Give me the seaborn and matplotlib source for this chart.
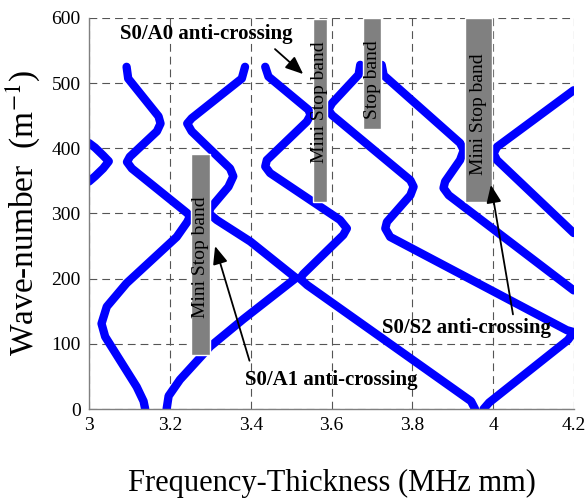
import pandas as pd
import matplotlib
matplotlib.use("Agg")
import matplotlib.pyplot as plt
import seaborn as sns

# dispersion branches (frequency-thickness, wave-number)
b1_f = [3.0, 3.015, 3.035, 3.049, 3.035, 3.015, 3.0]
b1_k = [408, 401, 389, 380, 369, 357, 349]
b2_f = [3.093, 3.097, 3.172, 3.177, 3.168, 3.101, 3.094, 3.106, 3.242, 3.25, 3.243, 3.217, 3.093, 3.044, 3.031, 3.04, 3.118, 3.135, 3.139]
b2_k = [525, 507, 449, 438, 426, 387, 379, 369, 301, 296, 287, 264, 193, 157, 131, 111, 34, 12, 0]
b3_f = [3.192, 3.197, 3.225, 3.3, 3.382, 3.512]
b3_k = [0, 20, 45, 96, 138, 201]
b4_f = [3.386, 3.378, 3.254, 3.243, 3.254, 3.349, 3.357, 3.345, 3.3, 3.297, 3.316, 3.399, 3.512]
b4_k = [525, 507, 446, 438, 426, 369, 357, 341, 308, 300, 290, 257, 201]
b5_f = [3.436, 3.444, 3.543, 3.548, 3.539, 3.44, 3.436, 3.448, 3.621, 3.638, 3.629, 3.53, 3.522, 3.54, 3.945, 3.955]
b5_k = [525, 510, 459, 451, 441, 382, 372, 362, 290, 277, 267, 207, 200, 190, 12, 0]
b6_f = [3.671, 3.667, 3.601, 3.592, 3.601, 3.795, 3.803, 3.795, 3.737, 3.733, 3.745, 4.182, 4.199, 4.185, 3.99, 3.976]
b6_k = [528, 513, 469, 459, 451, 351, 341, 328, 287, 277, 264, 121, 118, 106, 10, 0]
b7_f = [3.724, 3.729, 3.918, 3.927, 3.918, 3.881, 3.877, 3.89, 4.199]
b7_k = [528, 512, 408, 397, 382, 349, 339, 328, 182]
b8_f = [4.199, 4.009, 4.001, 4.009, 4.199]
b8_k = [489, 402, 392, 382, 270]

# stop bands
band_left = [3.252, 3.553, 3.678, 3.931]
band_right = [3.300, 3.589, 3.723, 3.998]
band_bottom = [83, 318, 429, 318]
band_top = [392, 598, 600, 600]
band_text = ["Mini Stop band", "Mini Stop band", "Stop band", "Mini Stop band"]
band_text_k = [233, 471, 506, 453]

# anti-crossing labels
note_text = ["S0/A0 anti-crossing", "S0/A1 anti-crossing", "S0/S2 anti-crossing"]
note_pos = [(3.29, 575), (3.6, 44), (3.933, 124)]
note_tail = [(3.455, 555), (3.399, 70), (4.05, 141)]
note_tip = [(3.535, 511), (3.31, 254), (3.993, 348)]

branches = [(b1_f, b1_k), (b2_f, b2_k), (b3_f, b3_k), (b4_f, b4_k),
            (b5_f, b5_k), (b6_f, b6_k), (b7_f, b7_k), (b8_f, b8_k)]
rows = []
for i, (f, k) in enumerate(branches):
    for a, b in zip(f, k):
        rows.append({"branch": i, "ft": a, "k": b})
df = pd.DataFrame(rows)

sns.set_style("white")
plt.rcParams["font.family"] = ["Liberation Serif", "DejaVu Serif"]
plt.rcParams["mathtext.fontset"] = "stix"
plt.rcParams["text.color"] = "black"
plt.rcParams["axes.labelcolor"] = "black"

fig, ax = plt.subplots(figsize=(5.87, 4.98), dpi=100)
fig.subplots_adjust(left=0.1516, right=0.978, bottom=0.1787, top=0.964)

sns.lineplot(data=df, x="ft", y="k", units="branch", estimator=None, sort=False,
             color="#0000ff", lw=6, ax=ax, legend=False, zorder=2,
             solid_capstyle="round", solid_joinstyle="round")

for l, r, b, t, s, ty in zip(band_left, band_right, band_bottom, band_top, band_text, band_text_k):
    ax.bar((l + r) / 2, t - b, width=r - l, bottom=b, color="#808080", zorder=3)
    ax.text((l + r) / 2, ty, s, rotation=90, ha="center", va="center", fontsize=14, zorder=4)

for s, p, tl, tp in zip(note_text, note_pos, note_tail, note_tip):
    ax.text(p[0], p[1], s, ha="center", va="center", fontsize=15, fontweight="bold", zorder=5)
    ax.annotate("", xy=tp, xytext=tl,
                arrowprops=dict(arrowstyle="-|>,head_length=0.6,head_width=0.25",
                                color="black", lw=1.3, mutation_scale=18), zorder=5)

ax.set_xlim(3, 4.2)
ax.set_ylim(0, 600)
ax.set_xticks([3, 3.2, 3.4, 3.6, 3.8, 4, 4.2])
ax.set_xticklabels(["3", "3.2", "3.4", "3.6", "3.8", "4", "4.2"])
ax.set_yticks([0, 100, 200, 300, 400, 500, 600])
ax.grid(True, ls=(0, (7, 4.5)), lw=0.8, color="#555555")
ax.tick_params(direction="in", length=4, color="#808080", labelcolor="black", labelsize=14, pad=6)
for side in ["top", "right"]:
    ax.spines[side].set_visible(False)
for side in ["left", "bottom"]:
    ax.spines[side].set_color("#808080")
    ax.spines[side].set_linewidth(1)

ax.set_xlabel("Frequency-Thickness (MHz mm)", fontsize=22, labelpad=25)
ax.set_ylabel(r"Wave-number  (m$^{-1}$)", fontsize=24, labelpad=7)

plt.savefig("out.png", dpi=100)
